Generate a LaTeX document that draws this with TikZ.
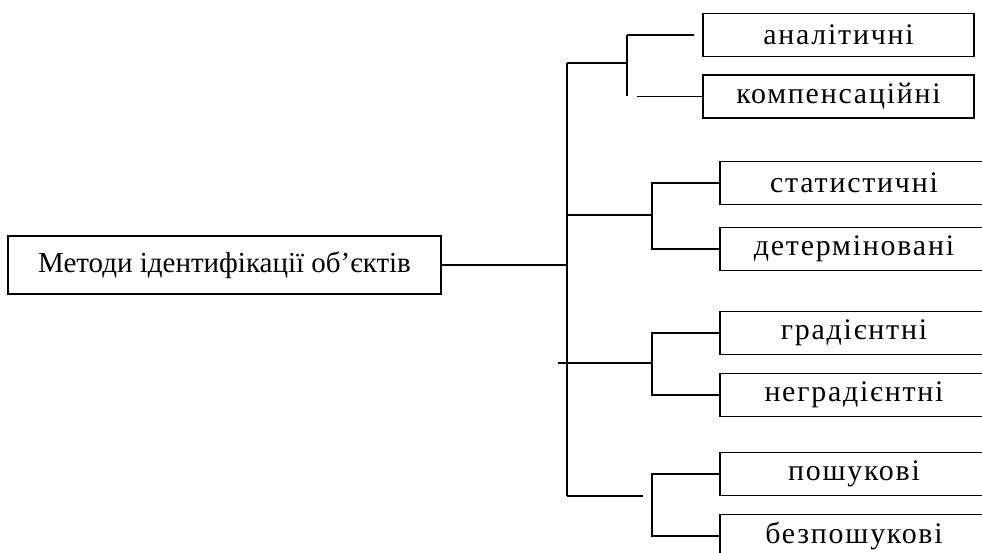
\documentclass[tikz,border=0pt]{standalone}
\usepackage{fontspec}
\newfontfamily\spaced{Liberation Serif}[LetterSpace=6]
\newfontfamily\rootfont{Liberation Serif}

\begin{document}
\begin{tikzpicture}[x=0.02cm, y=-0.02cm, line width=0.9pt,
  box/.style={draw, inner sep=0pt, minimum width=5.36cm, minimum height=0.86cm, font=\spaced\fontsize{17}{20}\selectfont},
  rootbox/.style={draw, inner sep=0pt, minimum width=8.66cm, minimum height=1.16cm, font=\rootfont\fontsize{16.5}{20}\selectfont}]
\useasboundingbox (0, 0) rectangle (982, 553);
\clip (0, 0) rectangle (982, 553);
\node[rootbox] (root) at (224.5, 265){Методи ідентифікації об’єктів};
\node[box, minimum width=5.42cm] (anal) at (838.5, 35){аналітичні};
\node[box, minimum width=5.42cm] (komp) at (838.5, 96.5){компенсаційні};
\node[box] (stat) at (854, 183){статистичні};
\node[box] (det) at (854, 249){детерміновані};
\node[box] (grad) at (854, 333){градієнтні};
\node[box] (negrad) at (854, 395){неградієнтні};
\node[box] (posh) at (854, 474){пошукові};
\node[box] (bezposh) at (854, 536){безпошукові};
\coordinate (top) at (567, 63);
\coordinate (stem2) at (567, 215);
\coordinate (hub) at (567, 265);
\coordinate (stem3) at (558, 363);
\coordinate (bottom) at (567, 496);
\coordinate (fork1) at (627, 63);
\coordinate (fork2) at (652, 215);
\coordinate (fork3) at (652, 363);
\coordinate (fork4) at (652, 496);
\draw(root) -- (hub);
\draw(top) -- (bottom);
\draw(top) -- (fork1);
\draw(anal.west -| fork1) -- (komp.west -| fork1);
\draw[shorten >=4.5pt](anal.west -| fork1) -- (anal.west);
\draw[shorten <=5.5pt](komp.west -| fork1) -- (komp.west);
\draw(stem2) -- (fork2);
\draw(stat.west) -| (fork2) |- (det.west);
\draw(stem3) -- (fork3);
\draw(grad.west) -| (fork3) |- (negrad.west);
\draw[shorten >=5pt](bottom) -- (fork4);
\draw(posh.west) -| (fork4) |- (bezposh.west);
\end{tikzpicture}
\end{document}
